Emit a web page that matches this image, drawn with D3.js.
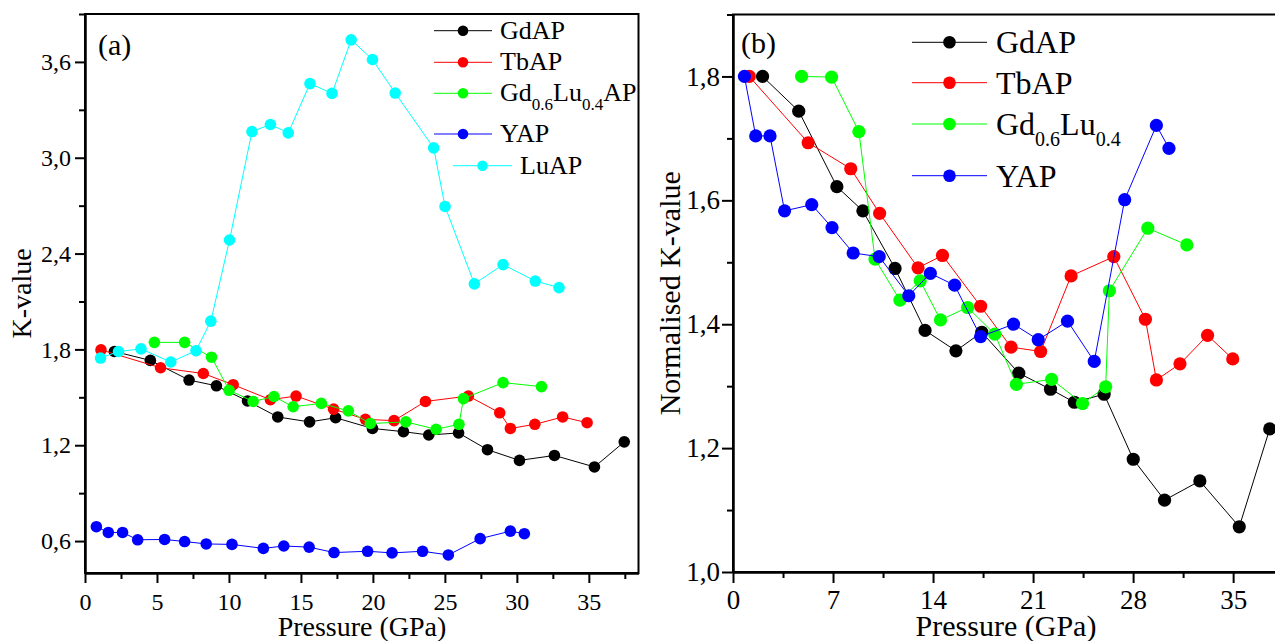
<!DOCTYPE html>
<html><head><meta charset="utf-8">
<script src="https://cdn.jsdelivr.net/npm/d3@7"></script>
<style>
html,body{margin:0;padding:0;background:#fff;}
svg{display:block;}
svg text{font-family:"Liberation Serif","Times New Roman","DejaVu Serif",serif;fill:#000;}
</style></head>
<body>
<svg id="chart" width="1275" height="641"></svg>
<script>
// ---------- Panel (a) data ----------
const seriesNamesA = ["GdAP","TbAP","Gd0.6Lu0.4AP","YAP","LuAP"];
const gdapA_P = [2.04,4.54,7.23,9.13,11.29,13.39,15.6,17.41,19.97,22.12,23.88,25.95,27.96,30.18,32.61,35.39,37.46];
const gdapA_K = [1.787,1.731,1.608,1.572,1.477,1.377,1.346,1.372,1.305,1.285,1.264,1.277,1.172,1.105,1.136,1.064,1.221];
const tbapA_P = [1.11,5.25,8.22,10.29,12.88,14.66,17.27,19.48,21.47,23.65,26.63,28.81,29.55,31.25,33.18,34.88];
const tbapA_K = [1.797,1.685,1.649,1.579,1.485,1.508,1.426,1.362,1.354,1.474,1.508,1.403,1.305,1.331,1.377,1.341];
const gdluA_P = [4.82,6.92,8.79,10.01,11.68,13.13,14.46,16.42,18.29,19.82,22.29,24.39,25.98,26.29,29.04,31.71];
const gdluA_K = [1.844,1.844,1.751,1.544,1.474,1.505,1.441,1.462,1.415,1.336,1.346,1.300,1.331,1.492,1.592,1.567];
const yapA_P = [0.79,1.62,2.61,3.66,5.53,6.92,8.42,10.21,12.39,13.81,15.57,17.3,19.63,21.33,23.45,25.24,27.45,29.55,30.52];
const yapA_K = [0.690,0.654,0.654,0.608,0.610,0.597,0.582,0.579,0.554,0.569,0.562,0.528,0.536,0.526,0.536,0.513,0.615,0.662,0.646];
const luapA_P = [1.08,2.33,3.89,5.96,7.71,8.74,10.04,11.6,12.88,14.12,15.63,17.16,18.49,19.97,21.55,24.22,25.01,27.05,29.04,31.28,32.93];
const luapA_K = [1.746,1.787,1.803,1.721,1.792,1.977,2.485,3.164,3.208,3.156,3.464,3.403,3.738,3.615,3.405,3.062,2.695,2.21,2.331,2.228,2.187];

// ---------- Panel (b) data ----------
const gdapB_P = [2.07,4.60,7.27,9.09,11.34,13.44,15.6,17.41,20.0,22.22,23.89,25.97,28.01,30.2,32.67,35.43,37.56];
const gdapB_K = [1.8,1.744,1.622,1.583,1.490,1.390,1.357,1.387,1.321,1.295,1.274,1.287,1.182,1.116,1.147,1.073,1.231];
const tbapB_P = [1.14,5.26,8.24,10.26,12.95,14.66,17.33,19.46,21.53,23.66,26.65,28.86,29.63,31.28,33.21,34.97];
const tbapB_K = [1.8,1.693,1.651,1.579,1.491,1.511,1.429,1.363,1.356,1.478,1.509,1.408,1.310,1.336,1.382,1.344];
const gdluB_P = [4.80,6.90,8.81,9.94,11.68,13.10,14.52,16.42,18.32,19.83,22.30,24.46,26.08,26.34,29.03,31.76];
const gdluB_K = [1.8,1.799,1.711,1.505,1.439,1.470,1.407,1.427,1.384,1.303,1.311,1.272,1.299,1.454,1.555,1.528];
const yapB_P = [0.80,1.59,2.59,3.61,5.51,6.93,8.41,10.23,12.30,13.81,15.51,17.33,19.63,21.36,23.41,25.28,27.41,29.63,30.51];
const yapB_K = [1.8,1.704,1.704,1.583,1.593,1.556,1.515,1.509,1.446,1.482,1.463,1.380,1.400,1.375,1.405,1.340,1.601,1.721,1.684];

// ---------- ticks ----------
const xTicksA = [0,5,10,15,20,25,30,35];
const xMinorA = [2.5,7.5,12.5,17.5,22.5,27.5,32.5,37.5];
const yTicksA = [0.6,1.2,1.8,2.4,3.0,3.6];
const yMinorA = [0.9,1.5,2.1,2.7,3.3,3.9];
const xTicksB = [0,7,14,21,28,35];
const xMinorB = [3.5,10.5,17.5,24.5,31.5];
const yTicksB = [1.0,1.2,1.4,1.6,1.8];
const yMinorB = [1.1,1.3,1.5,1.7,1.9];

const colors = {black:"#000000", red:"#ff0000", green:"#00ff00", blue:"#0000ff", cyan:"#00ffff"};
const fmt = v => d3.format(".1f")(v).replace(".", ",");
const FONT = '"Liberation Serif","Times New Roman","DejaVu Serif",serif';

const svg = d3.select("#chart");

function panel(cfg){
  const g = svg.append("g");
  const x = d3.scaleLinear().domain(cfg.xDomain).range([cfg.left, cfg.right]);
  const y = d3.scaleLinear().domain(cfg.yDomain).range([cfg.bottom, cfg.top]);

  // frame
  g.append("rect").attr("x", cfg.left).attr("y", cfg.top)
    .attr("width", cfg.right - cfg.left).attr("height", cfg.bottom - cfg.top)
    .attr("fill","none").attr("stroke","#000").attr("stroke-width",2);

  // axes
  const xa = g.append("g").attr("transform",`translate(0,${cfg.bottom})`)
    .call(d3.axisBottom(x).tickValues(cfg.xTicks).tickFormat(d3.format("d"))
      .tickSize(cfg.major).tickPadding(cfg.xPad).tickSizeOuter(0));
  const xm = g.append("g").attr("transform",`translate(0,${cfg.bottom})`)
    .call(d3.axisBottom(x).tickValues(cfg.xMinor).tickFormat(() => null).tickSize(cfg.minor).tickSizeOuter(0));
  const ya = g.append("g").attr("transform",`translate(${cfg.left},0)`)
    .call(d3.axisLeft(y).tickValues(cfg.yTicks).tickFormat(fmt)
      .tickSize(cfg.major).tickPadding(cfg.yPad).tickSizeOuter(0));
  const ym = g.append("g").attr("transform",`translate(${cfg.left},0)`)
    .call(d3.axisLeft(y).tickValues(cfg.yMinor).tickFormat(() => null).tickSize(cfg.minor).tickSizeOuter(0));
  [xm, ym].forEach(a => a.selectAll(".tick text").remove());
  [xa,xm,ya,ym].forEach(a=>{
    a.attr("font-family", FONT);
    a.select(".domain").attr("stroke","#000").attr("stroke-width",2);
    a.selectAll(".tick line").attr("stroke","#000").attr("stroke-width",2);
    a.selectAll("text").style("font-family", FONT)
      .style("font-size", cfg.tickFont + "px").attr("fill","#000");
  });

  // series
  const line = d3.line().x(d=>x(d[0])).y(d=>y(d[1]));
  cfg.series.forEach(s=>{
    const pts = d3.zip(s.P, s.K);
    g.append("path").datum(pts).attr("d",line).attr("fill","none")
      .attr("stroke",s.color).attr("stroke-width",1);
    g.selectAll(null).data(pts).enter().append("circle")
      .attr("cx",d=>x(d[0])).attr("cy",d=>y(d[1])).attr("r",cfg.r).attr("fill",s.color);
  });

  // axis titles
  g.append("text").attr("x",cfg.xTitleX).attr("y",636).attr("text-anchor","middle")
    .style("font-family",FONT).style("font-size",cfg.titleFont+"px").text("Pressure (GPa)");
  g.append("text").attr("transform",`translate(${cfg.yTitleX},${(cfg.top+cfg.bottom)/2}) rotate(-90)`)
    .attr("text-anchor","middle").style("font-family",FONT).style("font-size",cfg.titleFont+"px").text(cfg.yTitle);
  // panel label
  g.append("text").attr("x",cfg.labelX).attr("y",cfg.labelY)
    .style("font-family",FONT).style("font-size","30px").text(cfg.label);

  // legend
  cfg.legend.forEach(l=>{
    g.append("line").attr("x1",l.x1).attr("x2",l.x2).attr("y1",l.y).attr("y2",l.y)
      .attr("stroke",l.color).attr("stroke-width",1);
    g.append("circle").attr("cx",(l.x1+l.x2)/2).attr("cy",l.y).attr("r",cfg.lr).attr("fill",l.color);
    const t = g.append("text").attr("x",l.tx).attr("y",l.y+cfg.lOff)
      .style("font-family",FONT).style("font-size",cfg.lFont+"px");
    let shifted = false;
    l.parts.forEach(p=>{
      const ts = t.append("tspan").text(p.t);
      if (p.sub) {
        ts.style("font-size",cfg.subFont+"px").attr("dy",shifted ? 0 : cfg.subShift);
        shifted = true;
      } else {
        if (shifted) { ts.attr("dy", -cfg.subShift); shifted = false; }
      }
    });
  });
}

const gdluPartsA = [{t:"Gd"},{t:"0.6",sub:true},{t:"Lu"},{t:"0.4",sub:true},{t:"AP"}];
const gdluPartsB = [{t:"Gd"},{t:"0.6",sub:true},{t:"Lu"},{t:"0.4",sub:true}];

panel({
  left:85, right:638.5, top:14, bottom:573,
  xDomain:[0,38.45], yDomain:[0.4,3.9],
  xTicks:xTicksA, xMinor:xMinorA, yTicks:yTicksA, yMinor:yMinorA,
  major:10, minor:6, xPad:10, yPad:4, tickFont:24, titleFont:28,
  r:5.8, xTitleX:362, yTitleX:31, yTitle:"K-value",
  label:"(a)", labelX:98, labelY:55,
  series:[
    {P:gdapA_P,K:gdapA_K,color:colors.black},
    {P:tbapA_P,K:tbapA_K,color:colors.red},
    {P:gdluA_P,K:gdluA_K,color:colors.green},
    {P:yapA_P,K:yapA_K,color:colors.blue},
    {P:luapA_P,K:luapA_K,color:colors.cyan}
  ],
  lr:5.3, lFont:26, subFont:17, subShift:9, lOff:8,
  legend:[
    {x1:434,x2:492,y:30.7,tx:500,color:colors.black,parts:[{t:"GdAP"}]},
    {x1:434,x2:492,y:62.3,tx:500,color:colors.red,parts:[{t:"TbAP"}]},
    {x1:434,x2:492,y:93.3,tx:500,color:colors.green,parts:gdluPartsA},
    {x1:434,x2:492,y:134,tx:500,color:colors.blue,parts:[{t:"YAP"}]},
    {x1:453,x2:512,y:165.7,tx:520,color:colors.cyan,parts:[{t:"LuAP"}]}
  ]
});

panel({
  left:733, right:1276, top:14.5, bottom:572,
  xDomain:[0,38], yDomain:[1.0,1.9],
  xTicks:xTicksB, xMinor:xMinorB, yTicks:yTicksB, yMinor:yMinorB,
  major:11, minor:6, xPad:7, yPad:2, tickFont:27, titleFont:30,
  r:6.6, xTitleX:1006, yTitleX:680, yTitle:"Normalised K-value",
  label:"(b)", labelX:741, labelY:53,
  series:[
    {P:gdapB_P,K:gdapB_K,color:colors.black},
    {P:tbapB_P,K:tbapB_K,color:colors.red},
    {P:gdluB_P,K:gdluB_K,color:colors.green},
    {P:yapB_P,K:yapB_K,color:colors.blue}
  ],
  lr:6.3, lFont:32, subFont:20, subShift:11, lOff:11,
  legend:[
    {x1:912,x2:987,y:42.3,tx:996,color:colors.black,parts:[{t:"GdAP"}]},
    {x1:912,x2:987,y:82.7,tx:996,color:colors.red,parts:[{t:"TbAP"}]},
    {x1:912,x2:987,y:124,tx:996,color:colors.green,parts:gdluPartsB},
    {x1:912,x2:987,y:175.7,tx:996,color:colors.blue,parts:[{t:"YAP"}]}
  ]
});
</script>
</body></html>
